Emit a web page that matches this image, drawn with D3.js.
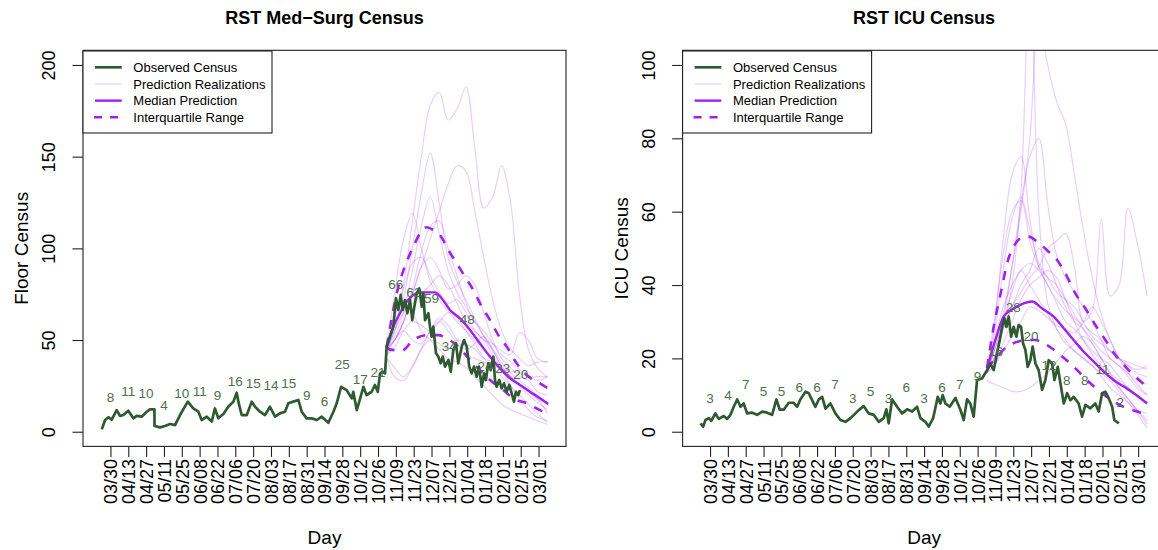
<!DOCTYPE html>
<html><head><meta charset="utf-8">
<script src="https://cdn.jsdelivr.net/npm/d3@7"></script>
<style>
body{margin:0;background:#fff}
svg{display:block}
text{font-family:"Liberation Sans",Arial,Helvetica,sans-serif}
</style>
</head><body>
<svg id="chart" width="1158" height="550"></svg>
<script>
// ---------- DATA (days counted from 2020-03-30) ----------
const tickLabels = ["03/30","04/13","04/27","05/11","05/25","06/08","06/22","07/06","07/20","08/03","08/17","08/31","09/14","09/28","10/12","10/26","11/09","11/23","12/07","12/21","01/04","01/18","02/01","02/15","03/01"];
const tickDays = [0,14,28,42,56,70,84,98,112,126,140,154,168,182,196,210,224,238,252,266,280,294,308,322,336];

const floorLabels = [8,11,10,4,10,11,9,16,15,14,15,9,6,25,17,21,66,62,59,34,48,24,23,20];
const icuLabels   = [3,4,7,5,5,6,6,7,3,5,3,6,3,6,7,9,16,28,20,12,8,8,11,2];

const floorObsDays = [-6.8,-4.2,-1.6,1,4.9,7.5,10.1,14,18,20.6,24.5,28.5,31,34.5,34.6,39,42.8,46.8,50.7,54.6,60.7,65,69,71.6,75.6,79.5,82,84.7,88.6,92.5,96.5,99.1,100.4,103,107,110.9,113.5,117.4,121.3,125.2,129.2,133,137,139.6,143.5,147.5,150.1,154,158,162,165.8,171,175,177.6,181,185.4,189.4,190.6,193.3,196,198.5,201,205,207.6,209.8,211.6,214,215.5,216.8,219.4,222,224.1,225.9,227.8,229.4,231.2,233,235.1,236.9,238.5,240.4,242.4,244.3,245.6,246.9,249.5,250.8,252.1,253.4,255.5,257.3,259.2,260.8,262.6,265.2,267.1,269.1,271.2,273,275.7,277.5,279.6,281.6,283.5,285.3,287.4,289.2,291.4,293.2,294.7,296.5,298.4,300.5,301.8,303.1,305.2,307,308.9,311,313,314.9,316.7,318.3,320.1,321.4];
const floorObs = [1.3,6.4,7.9,6.6,11.8,8.6,9.1,11.5,7.3,8.6,8.2,10.9,12.2,12.2,3.1,2.4,3.1,4.2,3.6,9.1,16.4,12.7,10.9,6.4,8.2,5.5,12.7,7.3,9.7,13.6,16.4,21.3,16.4,9.1,9.1,16.4,13.6,10.9,9.1,13.6,8.2,10,10.9,15.5,16.4,17.3,10.9,7.3,7.3,6.4,8.2,4.9,10.9,15.5,24.5,22.7,18.2,21.8,11.8,18.2,24.5,20,21.8,25.5,21.8,31.8,32.7,31.8,46.4,51.8,57.3,72.8,66.4,74.6,66.4,71.8,64.6,71.8,60.9,68.2,75.5,78.2,68.2,75.5,60.9,64.6,57.3,51.8,57.3,42.8,41,37.3,41,35.5,39.1,32.7,44.6,48.2,37.3,46.4,50,46.4,35.5,31.8,35.5,30,35.5,24.5,31.8,28.2,37.3,33.6,40.9,28.2,24.5,28.2,23.6,26.4,21.8,25.5,20.9,16.4,21.8,20,22.7];

const icuObsDays = [-7.5,-5.4,-3.6,-1,1,4.2,6.8,10.8,13.4,16,18.6,21.3,23.9,26.4,29.1,33,37,40.9,44.8,48.7,52.1,54.7,57.8,61.8,65.7,68.4,70.9,74.9,77.5,80.1,82.7,85.3,88,90.6,94.5,98.4,102.3,106.3,110.2,114.1,116.7,120.6,124.5,128.5,132.4,136.3,138.4,140.2,142.9,146.8,150.7,154.7,158.6,162.5,165.1,169,171.6,175.1,178.7,180.8,182.6,184.7,188.1,192.6,196.5,199.1,201.7,204.3,206.9,209.6,213.5,217.4,220,222.6,225.3,227.4,229.2,231,232.6,234.4,236.3,238.3,240.4,242.2,244.1,245.7,247.5,249.3,251.4,253.2,255.4,257.9,260.6,263.2,265.8,268.5,270.3,272.9,275,277.6,280.3,282.8,285.4,289.3,292,294.6,298.5,302.4,305,307.7,310.3,312.9,315.6,317.3,320.8];
const icuObs = [2.3,1.4,3.2,3.7,3,5,3.5,4.3,3.5,4.6,6.8,8.8,6.8,7.7,5,5.2,4.6,5.5,5.2,4.6,8.8,6,6,7.9,7.9,6.8,8.8,10.9,10.5,8.6,6.8,8.8,9.5,6.3,7.7,5,3.2,2.7,3.7,5,5.9,7,5,4.6,2.7,3.7,6.1,2.3,8.8,6.8,5,6.1,5.5,6.8,3.7,2.7,1.4,3.7,9.5,7.7,10,7.7,6.8,9.2,6,3.2,8.8,7.7,4.1,14.1,14.5,16.8,18.6,16.8,21.4,25,28.6,30.9,28.6,31.4,25.9,28.6,25.9,29.1,28.6,24.1,22.3,17.7,19.5,23.2,18.6,16.8,11.4,14.1,19.5,18.6,14.1,17.7,13.2,7.7,10.5,8.6,9.5,7.7,4.1,7.3,6.4,7.7,5.5,10.5,10.9,9.1,6.8,3.2,2.3];

// prediction realizations, sampled on these days
const realDays = [217,223,230,237,244,251,258,265,272,279,286,293,300,307,314,321,328,335,343];
const floorReal = [
  [46,55,80,115,150,178,185,170,176,188,155,122,128,145,125,75,45,35,30],
  [46,55,72,100,130,152,125,95,82,72,62,52,44,36,30,26,22,19,16],
  [46,50,60,75,90,105,120,135,145,142,120,95,72,55,45,40,36,38,38],
  [46,75,105,119,100,82,72,66,60,55,50,45,40,35,30,25,20,16,12],
  [46,52,65,88,112,128,108,88,76,68,60,52,45,38,32,28,24,20,15],
  [45,50,60,78,98,112,115,100,85,70,60,55,48,42,38,34,30,28,30],
  [46,62,78,92,95,85,76,70,72,65,55,50,42,35,30,26,22,18,10],
  [42,46,55,60,58,55,60,65,62,55,48,40,35,30,25,20,15,10,5],
  [40,35,30,36,45,50,48,45,50,48,45,40,38,34,30,26,22,18,15],
  [45,55,65,70,75,80,85,80,70,60,55,50,48,44,42,54,50,40,38],
  [42,50,55,50,48,55,60,55,48,42,40,38,36,34,33,32,30,30,30],
  [45,50,60,75,90,95,88,78,80,85,80,65,50,40,35,30,28,22,20],
  [46,58,70,65,55,50,45,40,38,35,30,25,20,15,12,10,8,6,4],
  [40,30,28,35,45,55,62,58,50,45,48,52,45,35,25,18,12,8,6]
];
const icuReal = [
  [16,20,28,40,65,125,60,35,28,24,22,20,18,15,12,10,8,6,5],
  [16,22,32,45,60,80,112,100,90,84,70,55,42,32,25,20,16,13,10],
  [16,20,30,45,62,75,80,62,48,42,38,34,30,25,20,18,15,12,10],
  [16,28,52,70,75,58,45,40,35,30,28,25,22,20,18,15,12,10,8],
  [16,30,48,60,63,52,45,42,40,36,32,28,24,20,16,14,12,10,8],
  [16,22,28,34,38,42,45,50,52,54,45,30,33,58,37,40,61,52,37],
  [16,24,34,40,44,46,44,40,36,33,31,29,27,25,22,20,18,16,15],
  [14,13,12,11,11,12,14,16,19,22,24,26,24,20,16,12,9,6,3],
  [16,20,28,34,40,44,50,46,40,34,30,28,25,22,20,18,16,14,13],
  [16,18,24,30,36,40,42,44,42,36,30,25,21,18,15,12,9,6,2],
  [16,18,22,26,30,34,33,31,29,28,27,30,34,30,25,20,18,17,18],
  [16,22,30,38,44,40,36,32,28,25,22,20,18,16,14,11,8,5,1],
  [16,26,44,58,64,55,46,42,38,36,34,30,26,24,22,20,19,18,17]
];

const floorMedDays = [216.8,222,227.2,232.5,237.7,242.9,248.1,254.7,259.9,266.5,274.3,282.2,290,297.9,305.7,313.6,321.4,329.3,337.1,343.6];
const floorMed = [46.4,57.3,64.6,70.9,74.6,76,76,76,72.8,66.4,61.8,55.5,48.2,40.9,34.6,29.1,25.5,21.8,18.2,15.1];
const floorUpDays = [216.8,226,232.5,237.7,243,248.2,253.4,258.6,265.2,271.8,278.3,284.8,291.4,297.9,304.4,311,318.8,326.7,337.1,343.6];
const floorUp = [46.4,79.1,92.7,100.9,108.2,111.5,110,107.3,99.1,91.8,84.5,77.3,68.2,60.9,52.7,46.4,37.3,30.9,26.4,23.6];
const floorLoDays = [216.8,219.1,228.6,237.7,248.2,257.3,263.9,273,282.2,290,297.9,308.3,316.2,326.7,337.1,343.6];
const floorLo = [46.4,44.9,44.2,50,52.7,52.7,50.9,46.4,39.1,33.6,28.2,22.7,18.2,15.5,11.8,10];

const icuMedDays = [217.4,223.9,230.4,238.3,246.2,252.7,260.6,269.7,277.6,285.4,293.3,301.1,309,316.8,324.7,332.5,343];
const icuMed = [17.3,25,31.4,33.6,35,35.5,33.6,31.4,28.2,25,21.8,19.1,16.4,14.1,12.3,10.5,7.7];
const icuUpDays = [217.4,222.6,229.2,233.1,238.3,243.6,250.1,256.7,264.5,272.4,280.2,286.7,294.6,302.4,310.3,318.1,327.3,335.2,343];
const icuUp = [17.3,28.6,39.5,45.9,50.5,52.7,53.2,51.8,49.5,46.8,42.3,37.7,33.6,29.1,25,20.9,17.3,14.6,12.3];
const icuLoDays = [217.4,225.3,233.1,241,248.8,255.4,261.9,268.5,275,282.8,290.7,298.5,307.7,316.8,327.3,335.2,343];
const icuLo = [17.3,20.5,23.2,24.5,25,25,24.1,22.7,20.9,18.6,15.9,13.2,10.5,8.2,6.4,5.5,4.5];

const legendItems = ["Observed Census","Prediction Realizations","Median Prediction","Interquartile Range"];

// ---------- DRAWING ----------
const svg = d3.select("#chart");
const COL_OBS = "#2f5a31", COL_LAB = "#4f6f4f", COL_PRED = "#a020f0";
const FONT = '"Liberation Sans",Arial,Helvetica,sans-serif';
const dayRange = [-7.5, 343.5];
const pad = (dayRange[1]-dayRange[0])*0.04;

function zip(a,b){ return a.map((d,i)=>[d,b[i]]); }

function panel(cfg){
  const L = cfg.left, R = cfg.left + 483, T = 50.3, B = 446.4;
  const x = d3.scaleLinear().domain([dayRange[0]-pad, dayRange[1]+pad]).range([L, R]);
  const yPad = cfg.ymax*0.04;
  const y = d3.scaleLinear().domain([-yPad, cfg.ymax+yPad]).range([B, T]);
  const g = svg.append("g");
  const clipId = "clip"+cfg.id;
  svg.append("clipPath").attr("id", clipId).append("rect")
     .attr("x", L).attr("y", T).attr("width", R-L).attr("height", B-T);
  const plot = g.append("g").attr("clip-path", `url(#${clipId})`);
  const line = d3.line().x(d=>x(d[0])).y(d=>y(d[1]));

  // realizations
  const smooth = d3.line().x(d=>x(d[0])).y(d=>y(d[1])).curve(d3.curveCatmullRom.alpha(0.5));
  cfg.real.forEach(r=>{
    plot.append("path").attr("d", smooth(zip(realDays, r)))
      .attr("fill","none").attr("stroke", COL_PRED).attr("stroke-opacity",0.22).attr("stroke-width",1.2);
  });
  const sm = d3.line().x(d=>x(d[0])).y(d=>y(d[1])).curve(d3.curveMonotoneX);
  plot.append("path").attr("d", sm(zip(cfg.upDays,cfg.up))).attr("fill","none")
    .attr("stroke",COL_PRED).attr("stroke-width",2.6).attr("stroke-dasharray","9,9");
  plot.append("path").attr("d", sm(zip(cfg.loDays,cfg.lo))).attr("fill","none")
    .attr("stroke",COL_PRED).attr("stroke-width",2.6).attr("stroke-dasharray","9,9");
  plot.append("path").attr("d", sm(zip(cfg.medDays,cfg.med))).attr("fill","none")
    .attr("stroke",COL_PRED).attr("stroke-width",2.4);

  // observed
  plot.append("path").attr("d", line(zip(cfg.obsDays, cfg.obs)))
    .attr("fill","none").attr("stroke", COL_OBS).attr("stroke-width",2.7)
    .attr("stroke-linejoin","round");

  // value labels
  plot.selectAll("text.vl").data(cfg.labels).join("text")
    .attr("x",(d,i)=>x(tickDays[i])).attr("y", d=>y(cfg.labelY(d)))
    .attr("dy","0.35em").attr("text-anchor","middle")
    .style("font-size","13.5px").attr("fill",COL_LAB).text(d=>d);

  // box
  g.append("rect").attr("x",L).attr("y",T).attr("width",R-L).attr("height",B-T)
    .attr("fill","none").attr("stroke","#222").attr("stroke-width",1.1);

  // x axis
  const xa = g.append("g").attr("transform",`translate(0,${B})`)
    .call(d3.axisBottom(x).tickValues(tickDays).tickFormat((d,i)=>tickLabels[i]).tickSize(10.5));
  xa.select(".domain").remove();
  xa.selectAll(".tick line").attr("stroke","#222").attr("stroke-width",1.1);
  xa.selectAll(".tick text").attr("transform","rotate(-90)")
    .attr("x",-12.5).attr("y",0).attr("dy","0.36em").attr("text-anchor","end")
    .style("font-size","18px").style("font-family",FONT).attr("fill","#000");

  // y axis
  const ya = g.append("g").attr("transform",`translate(${L},0)`)
    .call(d3.axisLeft(y).tickValues(cfg.yticks).tickSize(10.5));
  ya.select(".domain").remove();
  ya.selectAll(".tick line").attr("stroke","#222").attr("stroke-width",1.1);
  ya.selectAll(".tick text").attr("transform","rotate(-90)")
    .attr("x",0).attr("y",-28).attr("dy",0).attr("text-anchor","middle")
    .style("font-size","18px").style("font-family",FONT).attr("fill","#000");

  // titles
  g.append("text").attr("x",(L+R)/2).attr("y",24).attr("text-anchor","middle")
    .style("font-size","18px").style("font-weight","bold").text(cfg.title);
  g.append("text").attr("x",(L+R)/2).attr("y",544).attr("text-anchor","middle")
    .style("font-size","19px").text("Day");
  g.append("text").attr("transform",`translate(${L-55},${(T+B)/2}) rotate(-90)`)
    .attr("text-anchor","middle").style("font-size","19px").text(cfg.ylab);

  // legend
  const lg = g.append("g").attr("transform",`translate(${L},${T+0.7})`);
  lg.append("rect").attr("x",0).attr("y",0).attr("width",189).attr("height",82)
    .attr("fill","#fff").attr("stroke","#222").attr("stroke-width",1.1);
  const styles = [
    {c:COL_OBS, o:1, w:2.7, dash:null},
    {c:COL_PRED, o:0.22, w:1.2, dash:null},
    {c:COL_PRED, o:1, w:2.4, dash:null},
    {c:COL_PRED, o:1, w:2.6, dash:"8,8"}
  ];
  legendItems.forEach((t,i)=>{
    const yy = 16.3 + i*16.67;
    const s = styles[i];
    const ln = lg.append("line").attr("x1",12).attr("x2",38.7).attr("y1",yy).attr("y2",yy)
      .attr("stroke",s.c).attr("stroke-opacity",s.o).attr("stroke-width",s.w);
    if(s.dash) ln.attr("stroke-dasharray",s.dash).attr("x1",11).attr("x2",39);
    lg.append("text").attr("x",50.3).attr("y",yy).attr("dy","0.35em")
      .style("font-size","13px").attr("fill","#000").text(t);
  });
}

panel({id:1,left:83,ymax:200,yticks:[0,50,100,150,200],title:"RST Med\u2212Surg Census",ylab:"Floor Census",
  obsDays:floorObsDays,obs:floorObs,real:floorReal,labels:floorLabels,labelY:v=>v*1.06+10.4,
  medDays:floorMedDays,med:floorMed,upDays:floorUpDays,up:floorUp,loDays:floorLoDays,lo:floorLo});
panel({id:2,left:682.6,ymax:100,yticks:[0,20,40,60,80,100],title:"RST ICU Census",ylab:"ICU Census",
  obsDays:icuObsDays,obs:icuObs,real:icuReal,labels:icuLabels,labelY:v=>v+6,
  medDays:icuMedDays,med:icuMed,upDays:icuUpDays,up:icuUp,loDays:icuLoDays,lo:icuLo});
</script>
</body></html>
